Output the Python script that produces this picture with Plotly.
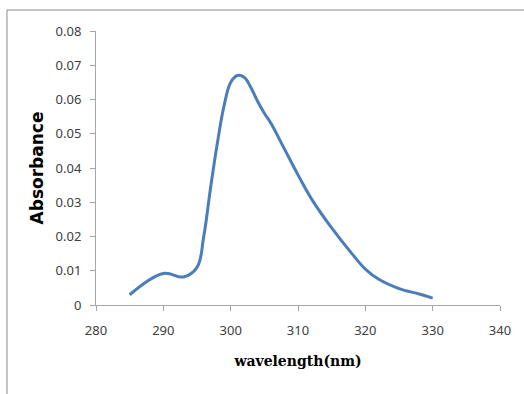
import plotly.graph_objects as go

wavelength = [285, 290, 293, 295, 296, 297, 298, 299, 300, 301, 302, 303, 304, 305, 306,
              308, 310, 312, 315, 318, 320, 322, 325, 328, 330]
absorbance = [0.003, 0.0092, 0.0082, 0.0110, 0.020, 0.034, 0.047, 0.058, 0.065, 0.067, 0.0665,
              0.0635, 0.0595, 0.056, 0.053, 0.0455, 0.038, 0.031, 0.0225, 0.015, 0.0105,
              0.0075, 0.0048, 0.0032, 0.002]
x_ticks = [280, 290, 300, 310, 320, 330, 340]
y_ticks = [0, 0.01, 0.02, 0.03, 0.04, 0.05, 0.06, 0.07, 0.08]
y_labels = ["0", "0.01", "0.02", "0.03", "0.04", "0.05", "0.06", "0.07", "0.08"]

W, H = 524, 394
ml, mr, mt, mb = 96, 24, 31, 89
pw, ph = W - ml - mr, H - mt - mb

def px(x):
    return (x - ml) / pw

def py(y):
    return (H - mb - y) / ph

fig = go.Figure()
fig.add_trace(go.Scatter(
    x=wavelength, y=absorbance, mode="lines",
    line=dict(color="#4a7ebb", width=3, shape="spline", smoothing=1.1),
    hoverinfo="skip", showlegend=False))

tick_font = dict(family="Liberation Sans Narrow, Noto Sans, sans-serif", size=13, color="#404040")
fig.update_xaxes(range=[280, 340], tickvals=x_ticks, ticks="outside", ticklen=5,
                 tickcolor="#a6a6a6", showline=True, linecolor="#a6a6a6", linewidth=1,
                 showgrid=False, zeroline=False, tickfont=tick_font, ticklabelstandoff=8,
                 title=dict(text="<b>wavelength(nm)</b>", standoff=18,
                            font=dict(family="DejaVu Serif, Liberation Serif, serif", size=14,
                                      color="#000000")))
fig.update_yaxes(range=[0, 0.08], tickvals=y_ticks, ticktext=y_labels, ticks="outside",
                 ticklen=5, tickcolor="#a6a6a6", showline=True, linecolor="#a6a6a6",
                 linewidth=1, showgrid=False, zeroline=False, tickfont=tick_font,
                 ticklabelstandoff=6,
                 title=dict(text="<b>Absorbance</b>", standoff=7,
                            font=dict(family="DejaVu Sans, Liberation Sans, sans-serif", size=17,
                                      color="#000000")))
fig.update_layout(
    width=W, height=H, margin=dict(l=ml, r=mr, t=mt, b=mb),
    paper_bgcolor="white", plot_bgcolor="white",
    shapes=[dict(type="path", xref="paper", yref="paper",
                 path=f"M {px(7)} {py(H + 5)} L {px(7)} {py(10)} L {px(W + 5)} {py(10)}",
                 line=dict(color="#8c8c8c", width=1))])
fig.write_html("out.html")
